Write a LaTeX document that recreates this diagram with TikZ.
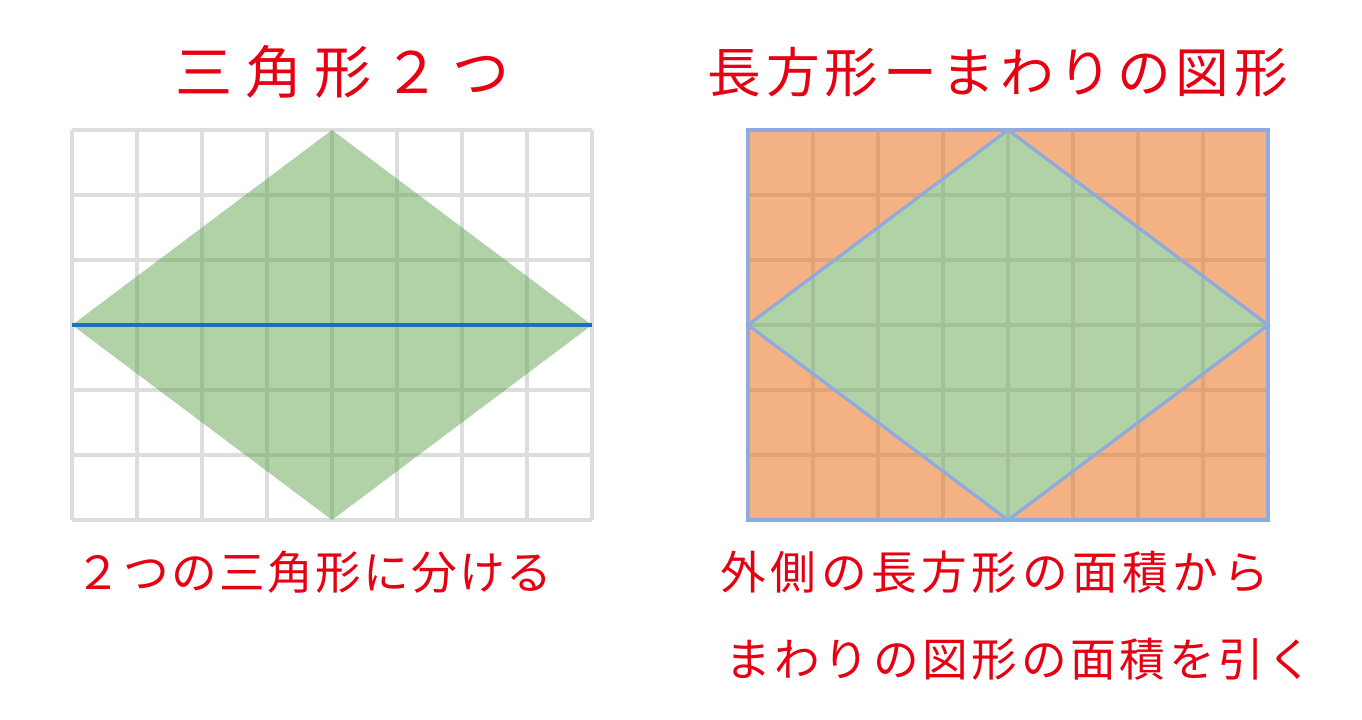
\documentclass[tikz,border=0pt]{standalone}
\usepackage{fontspec}
\usepackage{tikz}
\usetikzlibrary{positioning}

\newfontfamily\jpfont{Noto Sans CJK JP}

\definecolor{redtxt}{RGB}{230,0,18}
\definecolor{gridgray}{RGB}{220,221,221}
\definecolor{leafgreen}{RGB}{99,165,79}
\definecolor{palegreen}{RGB}{177,210,167}
\definecolor{peach}{RGB}{244,177,131}
\definecolor{lineblue}{RGB}{143,170,220}
\definecolor{darkblue}{RGB}{30,112,190}

\begin{document}
\begin{tikzpicture}[txt/.style = {text=redtxt, inner sep=0pt, anchor=west}]

\tikzstyle{gridline} = [draw=gridgray, line width=1.75pt]
\tikzstyle{shadeline} = [draw=black, opacity=0.08, line width=1.75pt]
\tikzstyle{edge} = [draw=lineblue, line width=1.4pt]

\useasboundingbox (0,0) rectangle (20.954,-11.077);

% left grid: two triangles
\begin{scope}[shift={(1.108,-8)}]
\draw[gridline] (0,0) grid (8,6);
\coordinate (Lw) at (0,3);
\coordinate (Ls) at (4,0);
\coordinate (Le) at (8,3);
\coordinate (Ln) at (4,6);
\fill[leafgreen, opacity=0.5] (Lw) -- (Ls) -- (Le) -- (Ln) -- cycle;
\draw[darkblue, line width=1.7pt] (Lw) -- (Le);
\end{scope}

% right grid: rectangle minus corners
\begin{scope}[shift={(11.508,-8)}]
\coordinate (Rsw) at (0,0);
\coordinate (Rne) at (8,6);
\coordinate (Rw) at (0,3);
\coordinate (Rs) at (4,0);
\coordinate (Re) at (8,3);
\coordinate (Rn) at (4,6);
\fill[peach] (Rsw) rectangle (Rne);
\fill[palegreen] (Rw) -- (Rs) -- (Re) -- (Rn) -- cycle;
\draw[shadeline] (Rsw) grid (Rne);
\draw[edge] (Rw) -- (Rs) -- (Re) -- (Rn) -- cycle;
\draw[edge, line width=1.75pt] (Rsw) rectangle (Rne);
\end{scope}

% titles
\node[txt, font=\jpfont\fontsize{25pt}{28pt}\selectfont\addfontfeatures{LetterSpace=21}]
  at (2.70,-1.108) (title1) {三角形２つ};
\node[txt, font=\jpfont\fontsize{23.5pt}{27pt}\selectfont\addfontfeatures{LetterSpace=9}]
  at (10.88,-1.108) (title2) {長方形ーまわりの図形};

% captions
\node[txt, font=\jpfont\fontsize{20pt}{23pt}\selectfont\addfontfeatures{LetterSpace=5}]
  at (1.15,-8.8) (cap1) {２つの三角形に分ける};
\node[txt, font=\jpfont\fontsize{20pt}{23pt}\selectfont\addfontfeatures{LetterSpace=10}]
  at (11.08,-8.8) (cap2) {外側の長方形の面積から};
\node[txt, font=\jpfont\fontsize{20pt}{23pt}\selectfont\addfontfeatures{LetterSpace=8}]
  at (11.15,-10.15) (cap3) {まわりの図形の面積を引く};
\end{tikzpicture}
\end{document}
